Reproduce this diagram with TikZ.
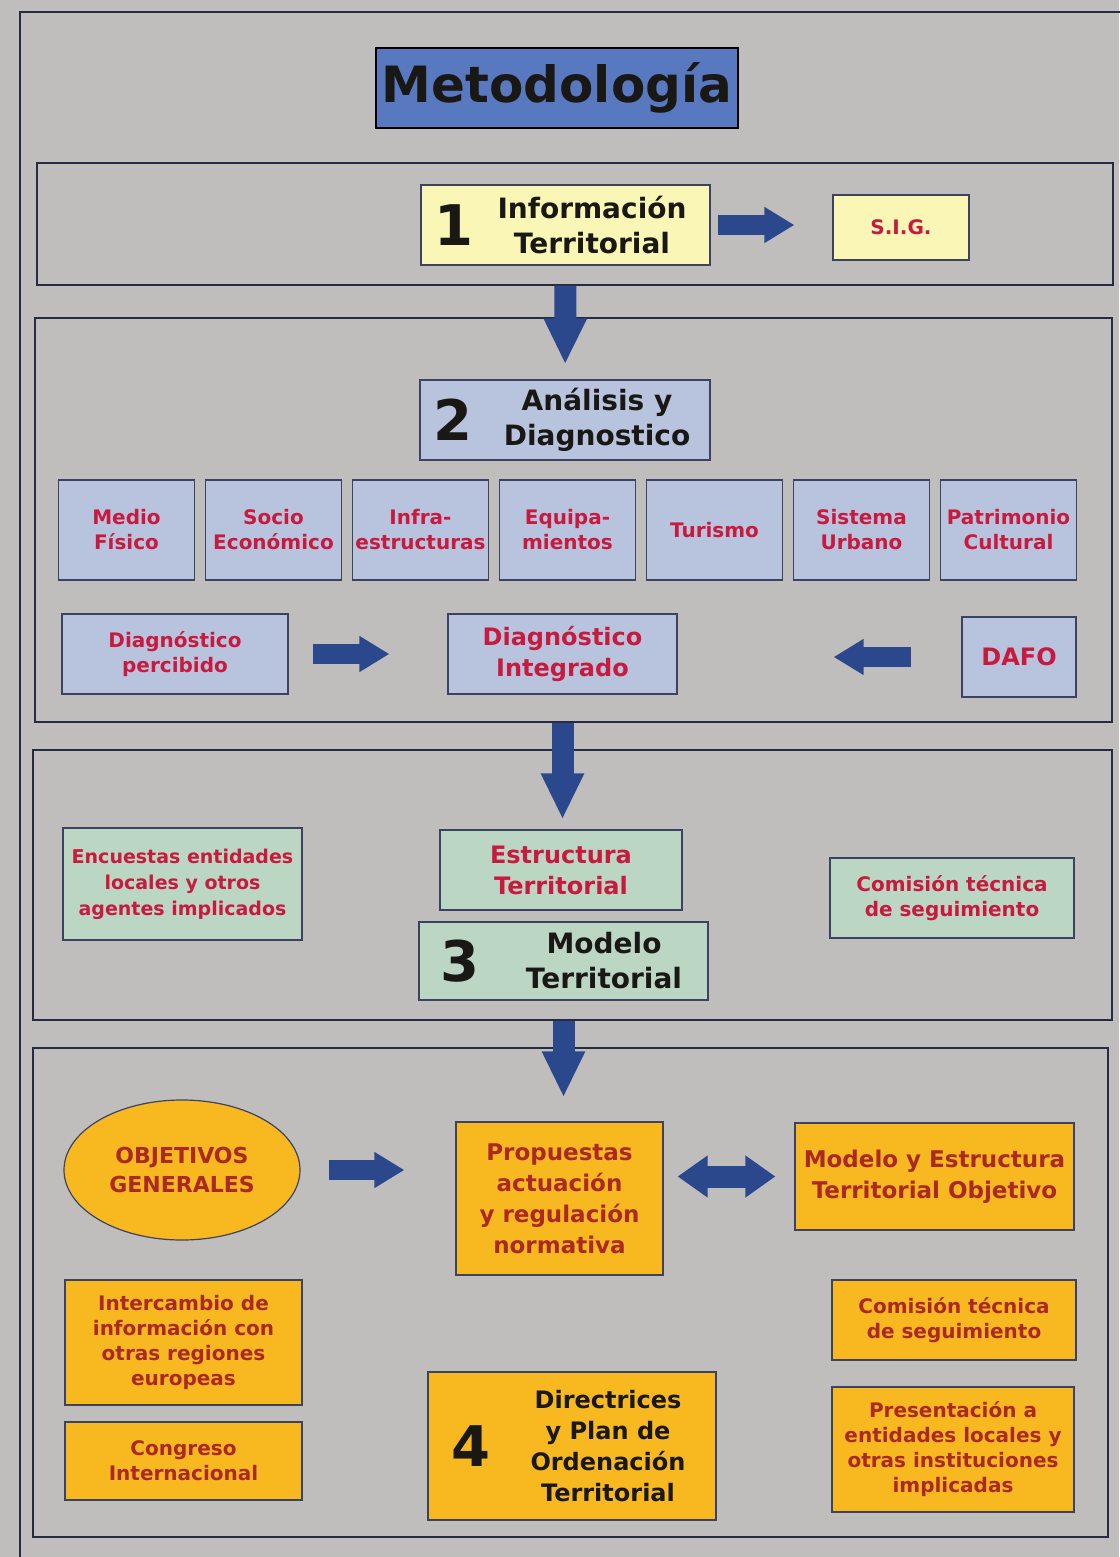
\documentclass[tikz,border=0pt]{standalone}
\usepackage{fontspec}
\setmainfont{DejaVu Sans}
\usetikzlibrary{arrows.meta,positioning,shapes.geometric}
\definecolor{fondo}{RGB}{192,190,189}
\definecolor{linea}{RGB}{38,42,66}
\definecolor{borde}{RGB}{60,66,96}
\definecolor{titulo}{RGB}{88,120,192}
\definecolor{amarillo}{RGB}{250,246,182}
\definecolor{azul}{RGB}{184,196,222}
\definecolor{verde}{RGB}{188,214,196}
\definecolor{naranja}{RGB}{248,184,32}
\definecolor{azulflecha}{RGB}{44,72,140}
\definecolor{rojotxt}{RGB}{200,26,62}
\definecolor{marrontxt}{RGB}{172,40,34}
\definecolor{negro}{RGB}{26,24,20}
\begin{document}
\begin{tikzpicture}[x=1pt,y=-1pt,
    tam/.style 2 args={minimum width=#1, minimum height=#2},
    seccion/.style={draw=linea, line width=1.6pt, inner sep=0pt},
    caja/.style={draw=borde, line width=1.2pt, inner sep=2pt, align=center,
      font=\bfseries\fontsize{20}{25}\selectfont},
    rojo/.style={caja, text=rojotxt},
    marron/.style={caja, fill=naranja, text=marrontxt},
    numero/.style={font=\bfseries\fontsize{56}{56}\selectfont, text=negro, inner sep=0pt},
    grande/.style={align=center, text=negro, inner sep=0pt,
      font=\bfseries\fontsize{28}{35}\selectfont},
    flecha/.style={draw=azulflecha, line width=20pt, -{Triangle[width=34pt,length=30pt]}},
    bajada/.style={draw=azulflecha, line width=22pt, -{Triangle[width=40pt,length=46pt]}}]
  \useasboundingbox[fill=fondo] (0,0) rectangle (1119,1557);
  \draw[line width=2pt, draw=linea] (20,1580) -- (20,12) -- (1140,12);

  % titulo
  \node[draw=black, line width=1.6pt, fill=titulo, tam={362pt}{80pt}, text=negro,
    font=\bfseries\fontsize{50}{50}\selectfont] (metodo) at (557,88) {Metodología};

  % 1
  \node[seccion, tam={1076pt}{122pt}] (sec1) at (575,224) {};
  \node[caja, fill=amarillo, tam={289pt}{80pt}] (info) at (565.5,225) {};
  \node[numero, right=14pt of info.west] (n1) {1};
  \node[grande] (infotxt) at (592,225) {Información\\Territorial};
  \node[rojo, fill=amarillo, tam={136pt}{65pt}] (sig) at (901,227.5) {S.I.G.};
  \draw[flecha, shorten <=7pt, shorten >=38pt] (info) -- (info -| sig.west);

  % 2
  \node[seccion, tam={1077pt}{404pt}] (sec2) at (573.5,520) {};
  \node[caja, fill=azul, tam={290pt}{80pt}] (ana) at (565,420) {};
  \node[numero, right=14pt of ana.west] (n2) {2};
  \node[grande] (anatxt) at (597,420) {Análisis y\\Diagnostico};
  \draw[bajada, shorten <=20pt, shorten >=15pt] (info) -- (ana);

  \foreach \t [count=\i from 0] in {{Medio\\Físico},{Socio\\Económico},{Infra-\\estructuras},
      {Equipa-\\mientos},{Turismo},{Sistema\\Urbano},{Patrimonio\\Cultural}}
    \node[rojo, fill=azul, tam={136pt}{100pt}] (tema\i) at (126.5+147*\i,530) {\t};

  \node[rojo, fill=azul, tam={226pt}{80pt}] (perc) at (175,654) {Diagnóstico\\percibido};
  \node[rojo, fill=azul, tam={229pt}{80pt}, font=\bfseries\fontsize{24}{31}\selectfont]
    (integ) at (562.5,654) {Diagnóstico\\Integrado};
  \node[rojo, fill=azul, tam={114pt}{80pt}, font=\bfseries\fontsize{24}{31}\selectfont]
    (dafo) at (1019,657) {DAFO};
  \draw[flecha, shorten <=24pt, shorten >=58pt] (perc) -- (perc -| integ.west);
  \draw[flecha, shorten <=50pt, shorten >=156pt] (dafo) -- (dafo -| integ.east);

  % 3
  \node[seccion, tam={1079pt}{270pt}] (sec3) at (572.5,885) {};
  \node[rojo, fill=verde, tam={239pt}{112pt}, font=\bfseries\fontsize{19}{26}\selectfont]
    (encu) at (182.5,884) {Encuestas entidades\\locales y otros\\agentes implicados};
  \node[rojo, fill=verde, tam={242pt}{80pt}, font=\bfseries\fontsize{24}{31}\selectfont]
    (estr) at (561,870) {Estructura\\Territorial};
  \node[caja, fill=verde, tam={289pt}{78pt}] (modelo) at (563.5,961) {};
  \node[numero, right=22pt of modelo.west] (n3) {3};
  \node[grande] (modtxt) at (604,961) {Modelo\\Territorial};
  \node[rojo, fill=verde, tam={244pt}{80pt}] (comi1) at (952,898)
    {Comisión técnica\\de seguimiento};
  \draw[bajada, shorten <=28pt, shorten >=10pt] (integ) -- (integ |- estr.north);

  % 4
  \node[seccion, tam={1075pt}{489pt}] (sec4) at (570.5,1292.5) {};
  \node[ellipse, draw=borde, line width=1.2pt, fill=naranja, text=marrontxt,
    tam={236pt}{140pt}, align=center, font=\bfseries\fontsize{22}{29}\selectfont]
    (obj) at (182,1170) {OBJETIVOS\\GENERALES};
  \node[marron, tam={207pt}{153pt}, font=\bfseries\fontsize{23}{31}\selectfont]
    (prop) at (559.5,1198.5) {Propuestas\\actuación\\y regulación\\normativa};
  \node[marron, tam={279pt}{107pt}, font=\bfseries\fontsize{23}{31}\selectfont]
    (modobj) at (934.5,1176.5) {Modelo y Estructura\\Territorial Objetivo};
  \node[marron, tam={237pt}{125pt}] (inter) at (183.5,1342.5)
    {Intercambio de\\información con\\otras regiones\\europeas};
  \node[marron, tam={237pt}{78pt}] (cong) at (183.5,1461) {Congreso\\Internacional};
  \node[caja, fill=naranja, tam={288pt}{148pt}] (direc) at (572,1446) {};
  \node[numero, right=24pt of direc.west] (n4) {4};
  \node[grande, font=\bfseries\fontsize{24}{31}\selectfont] (directxt) at (608,1446)
    {Directrices\\y Plan de\\Ordenación\\Territorial};
  \node[marron, tam={244pt}{80pt}] (comi2) at (954,1320) {Comisión técnica\\de seguimiento};
  \node[marron, tam={242pt}{125pt}] (pres) at (953,1449.5)
    {Presentación a\\entidades locales y\\otras instituciones\\implicadas};
  \draw[bajada, shorten <=20pt, shorten >=24pt] (modelo) -- (modelo |- prop.north);
  \draw[flecha, shorten <=28pt, shorten >=51pt] (obj) -- (obj -| prop.west);
  \draw[draw=azulflecha, line width=22pt, {Triangle[width=40pt,length=30pt]}-{Triangle[width=40pt,length=30pt]},
    shorten <=14pt, shorten >=19pt] (prop.east |- modobj) -- (modobj);
\end{tikzpicture}
\end{document}
